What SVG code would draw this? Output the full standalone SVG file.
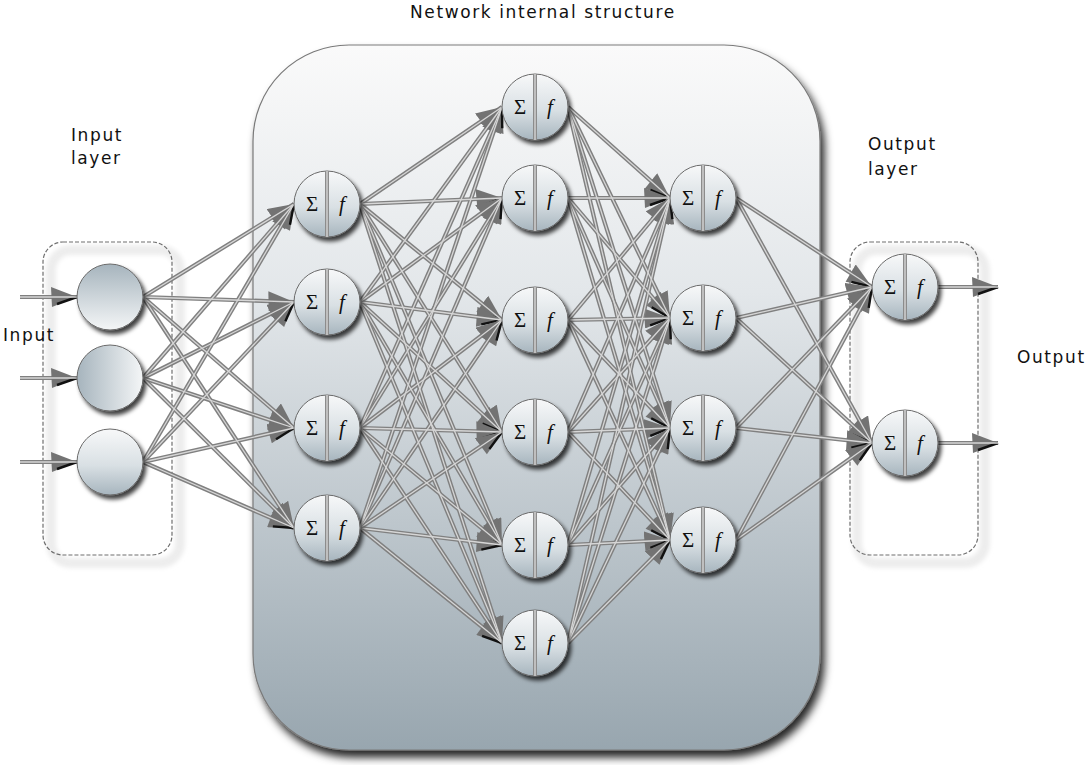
<svg xmlns="http://www.w3.org/2000/svg" xmlns:xlink="http://www.w3.org/1999/xlink" width="1087" height="765" viewBox="0 0 1087 765">
  <style>
    .label { font-family: "DejaVu Sans", Verdana, sans-serif; font-size: 17px; letter-spacing: 1.6px; fill: #111; }
    .sym { font-family: "Liberation Serif", "DejaVu Serif", serif; font-size: 21px; fill: #111; text-anchor: middle; }
    .fn { font-style: italic; }
    .body { stroke: #6a6a6a; stroke-width: 1; filter: url(#nodeShadow); }
    .neuron .body { fill: url(#nodeFill); }
    .divider { stroke: #8c8c8c; stroke-width: 4; }
    .divider-core { stroke: #e2e2e2; stroke-width: 1.2; }
    .wire-body { fill: none; stroke: #808080; stroke-width: 4.2; marker-end: url(#arrow); }
    .wire-core { fill: none; stroke: #d6d6d6; stroke-width: 1.3; }
    .dash-box { fill: none; stroke: #6e6e6e; stroke-width: 1.2; stroke-dasharray: 4 2; }
    .dash-halo { fill: none; stroke: #ededed; stroke-width: 10; }
  </style>
  <defs>
    <linearGradient id="panelFill" x1="0" y1="0" x2="0" y2="1">
      <stop offset="0" stop-color="#fafafa"/>
      <stop offset="0.35" stop-color="#e3e7ea"/>
      <stop offset="1" stop-color="#98a6af"/>
    </linearGradient>
    <linearGradient id="nodeFill" x1="0" y1="0" x2="0" y2="1">
      <stop offset="0" stop-color="#f7f8f9"/>
      <stop offset="0.55" stop-color="#d9e0e4"/>
      <stop offset="1" stop-color="#a7b5be"/>
    </linearGradient>
    <linearGradient id="inFillDown" x1="0" y1="0" x2="0" y2="1">
      <stop offset="0" stop-color="#a6b4bd"/>
      <stop offset="1" stop-color="#f4f6f7"/>
    </linearGradient>
    <linearGradient id="inFillSide" x1="0" y1="0" x2="1" y2="0">
      <stop offset="0" stop-color="#a6b4bd"/>
      <stop offset="1" stop-color="#f4f6f7"/>
    </linearGradient>
    <filter id="nodeShadow" x="-30%" y="-30%" width="170%" height="170%">
      <feDropShadow dx="3" dy="4" stdDeviation="2.2" flood-color="#000" flood-opacity="0.75"/>
    </filter>
    <filter id="panelShadow" x="-10%" y="-10%" width="125%" height="125%">
      <feDropShadow dx="4" dy="7" stdDeviation="4" flood-color="#000" flood-opacity="0.85"/>
    </filter>
    <filter id="soft" x="-10%" y="-10%" width="120%" height="120%">
      <feGaussianBlur stdDeviation="2"/>
    </filter>
    <marker id="arrow" markerUnits="userSpaceOnUse" viewBox="0 0 27 20" markerWidth="27" markerHeight="20" refX="26" refY="10" orient="auto">
      <path d="M0,0 L26,10 L1,20 Z" fill="#737373"/>
      <path d="M6,17 L26,10" stroke="#111" stroke-width="2.4"/>
    </marker>
    <!-- wire geometry: right edge of source to left edge of target -->
    <g id="wires">
      <!-- inputs -->
      <path d="M20,297 H77"/>
      <path d="M20,378 H77"/>
      <path d="M20,462 H77"/>
      <!-- input layer to hidden 1 -->
      <path d="M143,297 L294,204"/><path d="M143,297 L294,302"/><path d="M143,297 L294,428"/><path d="M143,297 L294,528"/>
      <path d="M143,378 L294,204"/><path d="M143,378 L294,302"/><path d="M143,378 L294,428"/><path d="M143,378 L294,528"/>
      <path d="M143,462 L294,204"/><path d="M143,462 L294,302"/><path d="M143,462 L294,428"/><path d="M143,462 L294,528"/>
      <!-- hidden 1 to hidden 2 -->
      <path d="M360,204 L502,107"/><path d="M360,204 L502,198"/><path d="M360,204 L502,320"/><path d="M360,204 L502,432"/><path d="M360,204 L502,545"/><path d="M360,204 L502,643"/>
      <path d="M360,302 L502,107"/><path d="M360,302 L502,198"/><path d="M360,302 L502,320"/><path d="M360,302 L502,432"/><path d="M360,302 L502,545"/><path d="M360,302 L502,643"/>
      <path d="M360,428 L502,107"/><path d="M360,428 L502,198"/><path d="M360,428 L502,320"/><path d="M360,428 L502,432"/><path d="M360,428 L502,545"/><path d="M360,428 L502,643"/>
      <path d="M360,528 L502,107"/><path d="M360,528 L502,198"/><path d="M360,528 L502,320"/><path d="M360,528 L502,432"/><path d="M360,528 L502,545"/><path d="M360,528 L502,643"/>
      <!-- hidden 2 to hidden 3 -->
      <path d="M568,107 L670,198"/><path d="M568,107 L670,318"/><path d="M568,107 L670,428"/><path d="M568,107 L670,540"/>
      <path d="M568,198 L670,198"/><path d="M568,198 L670,318"/><path d="M568,198 L670,428"/><path d="M568,198 L670,540"/>
      <path d="M568,320 L670,198"/><path d="M568,320 L670,318"/><path d="M568,320 L670,428"/><path d="M568,320 L670,540"/>
      <path d="M568,432 L670,198"/><path d="M568,432 L670,318"/><path d="M568,432 L670,428"/><path d="M568,432 L670,540"/>
      <path d="M568,545 L670,198"/><path d="M568,545 L670,318"/><path d="M568,545 L670,428"/><path d="M568,545 L670,540"/>
      <path d="M568,643 L670,198"/><path d="M568,643 L670,318"/><path d="M568,643 L670,428"/><path d="M568,643 L670,540"/>
      <!-- hidden 3 to output layer -->
      <path d="M736,198 L872,287"/><path d="M736,198 L872,443"/>
      <path d="M736,318 L872,287"/><path d="M736,318 L872,443"/>
      <path d="M736,428 L872,287"/><path d="M736,428 L872,443"/>
      <path d="M736,540 L872,287"/><path d="M736,540 L872,443"/>
      <!-- outputs -->
      <path d="M938,287 H998"/>
      <path d="M938,443 H998"/>
    </g>
  </defs>

  <rect width="1087" height="765" fill="#fff"/>

  <!-- hidden-layer panel -->
  <g id="network-panel">
    <rect x="253" y="45" width="567" height="705" rx="96" ry="96" fill="url(#panelFill)" stroke="#7a7a7a" stroke-width="1.2" filter="url(#panelShadow)"/>
  </g>

  <!-- dashed layer frames -->
  <g id="input-frame">
    <rect x="51" y="250" width="129" height="313" rx="20" class="dash-halo" filter="url(#soft)"/>
    <rect x="43" y="242" width="129" height="313" rx="20" class="dash-box"/>
  </g>
  <g id="output-frame">
    <rect x="857" y="250" width="128" height="313" rx="20" class="dash-halo" filter="url(#soft)"/>
    <rect x="850" y="242" width="128" height="313" rx="20" class="dash-box"/>
  </g>

  <!-- labels -->
  <g id="labels">
    <text class="label" x="410" y="18">Network internal structure</text>
    <text class="label" x="71" y="141">Input</text>
    <text class="label" x="71" y="164">layer</text>
    <text class="label" x="3" y="341">Input</text>
    <text class="label" x="868" y="150">Output</text>
    <text class="label" x="868" y="175">layer</text>
    <text class="label" x="1017" y="363">Output</text>
  </g>

  <!-- connectors -->
  <g id="connectors">
    <use href="#wires" class="wire-body"/>
    <use href="#wires" class="wire-core"/>
  </g>

  <!-- input nodes -->
  <g id="in-1" class="input-node"><circle cx="110" cy="297" r="33" class="body" fill="url(#inFillDown)"/></g>
  <g id="in-2" class="input-node"><circle cx="110" cy="378" r="33" class="body" fill="url(#inFillSide)"/></g>
  <g id="in-3" class="input-node"><circle cx="110" cy="462" r="33" class="body" fill="url(#nodeFill)"/></g>

  <!-- hidden layer 1 -->
  <g id="h1-1" class="neuron" transform="translate(327,204)"><circle r="33" class="body"/><line y1="-33" y2="33" class="divider"/><line y1="-33" y2="33" class="divider-core"/><text class="sym" x="-15" y="7">Σ</text><text class="sym fn" x="15" y="7">f</text></g>
  <g id="h1-2" class="neuron" transform="translate(327,302)"><circle r="33" class="body"/><line y1="-33" y2="33" class="divider"/><line y1="-33" y2="33" class="divider-core"/><text class="sym" x="-15" y="7">Σ</text><text class="sym fn" x="15" y="7">f</text></g>
  <g id="h1-3" class="neuron" transform="translate(327,428)"><circle r="33" class="body"/><line y1="-33" y2="33" class="divider"/><line y1="-33" y2="33" class="divider-core"/><text class="sym" x="-15" y="7">Σ</text><text class="sym fn" x="15" y="7">f</text></g>
  <g id="h1-4" class="neuron" transform="translate(327,528)"><circle r="33" class="body"/><line y1="-33" y2="33" class="divider"/><line y1="-33" y2="33" class="divider-core"/><text class="sym" x="-15" y="7">Σ</text><text class="sym fn" x="15" y="7">f</text></g>

  <!-- hidden layer 2 -->
  <g id="h2-1" class="neuron" transform="translate(535,107)"><circle r="33" class="body"/><line y1="-33" y2="33" class="divider"/><line y1="-33" y2="33" class="divider-core"/><text class="sym" x="-15" y="7">Σ</text><text class="sym fn" x="15" y="7">f</text></g>
  <g id="h2-2" class="neuron" transform="translate(535,198)"><circle r="33" class="body"/><line y1="-33" y2="33" class="divider"/><line y1="-33" y2="33" class="divider-core"/><text class="sym" x="-15" y="7">Σ</text><text class="sym fn" x="15" y="7">f</text></g>
  <g id="h2-3" class="neuron" transform="translate(535,320)"><circle r="33" class="body"/><line y1="-33" y2="33" class="divider"/><line y1="-33" y2="33" class="divider-core"/><text class="sym" x="-15" y="7">Σ</text><text class="sym fn" x="15" y="7">f</text></g>
  <g id="h2-4" class="neuron" transform="translate(535,432)"><circle r="33" class="body"/><line y1="-33" y2="33" class="divider"/><line y1="-33" y2="33" class="divider-core"/><text class="sym" x="-15" y="7">Σ</text><text class="sym fn" x="15" y="7">f</text></g>
  <g id="h2-5" class="neuron" transform="translate(535,545)"><circle r="33" class="body"/><line y1="-33" y2="33" class="divider"/><line y1="-33" y2="33" class="divider-core"/><text class="sym" x="-15" y="7">Σ</text><text class="sym fn" x="15" y="7">f</text></g>
  <g id="h2-6" class="neuron" transform="translate(535,643)"><circle r="33" class="body"/><line y1="-33" y2="33" class="divider"/><line y1="-33" y2="33" class="divider-core"/><text class="sym" x="-15" y="7">Σ</text><text class="sym fn" x="15" y="7">f</text></g>

  <!-- hidden layer 3 -->
  <g id="h3-1" class="neuron" transform="translate(703,198)"><circle r="33" class="body"/><line y1="-33" y2="33" class="divider"/><line y1="-33" y2="33" class="divider-core"/><text class="sym" x="-15" y="7">Σ</text><text class="sym fn" x="15" y="7">f</text></g>
  <g id="h3-2" class="neuron" transform="translate(703,318)"><circle r="33" class="body"/><line y1="-33" y2="33" class="divider"/><line y1="-33" y2="33" class="divider-core"/><text class="sym" x="-15" y="7">Σ</text><text class="sym fn" x="15" y="7">f</text></g>
  <g id="h3-3" class="neuron" transform="translate(703,428)"><circle r="33" class="body"/><line y1="-33" y2="33" class="divider"/><line y1="-33" y2="33" class="divider-core"/><text class="sym" x="-15" y="7">Σ</text><text class="sym fn" x="15" y="7">f</text></g>
  <g id="h3-4" class="neuron" transform="translate(703,540)"><circle r="33" class="body"/><line y1="-33" y2="33" class="divider"/><line y1="-33" y2="33" class="divider-core"/><text class="sym" x="-15" y="7">Σ</text><text class="sym fn" x="15" y="7">f</text></g>

  <!-- output layer -->
  <g id="out-1" class="neuron" transform="translate(905,287)"><circle r="33" class="body"/><line y1="-33" y2="33" class="divider"/><line y1="-33" y2="33" class="divider-core"/><text class="sym" x="-15" y="7">Σ</text><text class="sym fn" x="15" y="7">f</text></g>
  <g id="out-2" class="neuron" transform="translate(905,443)"><circle r="33" class="body"/><line y1="-33" y2="33" class="divider"/><line y1="-33" y2="33" class="divider-core"/><text class="sym" x="-15" y="7">Σ</text><text class="sym fn" x="15" y="7">f</text></g>
</svg>
